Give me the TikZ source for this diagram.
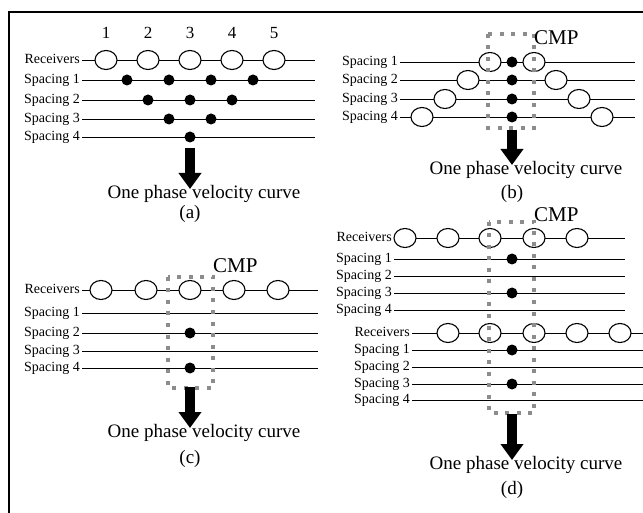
\documentclass[tikz,border=0pt]{standalone}
\usepackage{fontspec}
\setmainfont{Liberation Serif}
\usetikzlibrary{shapes.geometric,arrows.meta}

\tikzset{
  lab/.style={font=\fontsize{14}{16}\selectfont, anchor=base east, inner sep=0pt},
  rcv/.style={ellipse, draw, fill=white, line width=1.1pt, minimum width=22pt, minimum height=19pt, inner sep=0pt},
  src/.style={circle, fill=black, minimum size=11pt, inner sep=0pt},
  rowline/.style={line width=0.9pt},
  cmpbox/.style={draw=gray!90, line width=4pt, dash pattern=on 4pt off 7.5pt},
  bigarrow/.style={line width=9.5pt, -{Triangle[width=22pt,length=16pt]}},
  captxt/.style={font=\fontsize{19}{22}\selectfont, inner sep=0pt},
  cmptxt/.style={font=\fontsize{21}{24}\selectfont, anchor=base west, inner sep=0pt},
  numtxt/.style={font=\fontsize{17}{20}\selectfont, inner sep=0pt},
  frame/.style={line width=1.6pt}
}

% one labelled horizontal line: name, text, label right edge, line end, y
\newcommand\drawrow[5]{%
  \node[lab] (#1-l) at (#3,{#5+3.5}) {#2};
  \coordinate (#1-s) at ({#3+2},#5);
  \coordinate (#1-e) at (#4,#5);
  \draw[rowline] (#1-s) -- (#1-e);
}

\begin{document}
\begin{tikzpicture}[x=1pt,y=-1pt]
\useasboundingbox (0,0) rectangle (643,513);

% outer frame (top and left edges)
\coordinate (fr-tr) at (643,12);
\coordinate (fr-tl) at (9,12);
\coordinate (fr-bl) at (9,513);
\draw[frame] (fr-tr) -- (fr-tl) -- (fr-bl);

% ---------------- (a) ----------------
\foreach \i/\x in {1/106,2/148,3/190,4/232,5/274}
  \node[numtxt] (an\i) at (\x,33) {\i};
\drawrow{aR}{Receivers}{80}{315}{60}
\drawrow{aS1}{Spacing 1}{80}{315}{80}
\drawrow{aS2}{Spacing 2}{80}{315}{100}
\drawrow{aS3}{Spacing 3}{80}{315}{119}
\drawrow{aS4}{Spacing 4}{80}{315}{137}
\foreach \i/\x in {1/106,2/148,3/190,4/232,5/274}
  \node[rcv] (aR\i) at (\x,60) {};
\foreach \i/\x in {1/127,2/169,3/211,4/253}
  \node[src] (aD1\i) at (\x,80) {};
\foreach \i/\x in {1/148,2/190,3/232}
  \node[src] (aD2\i) at (\x,100) {};
\foreach \i/\x in {1/169,2/211}
  \node[src] (aD3\i) at (\x,119) {};
\node[src] (aD41) at (190,137) {};
\coordinate (aA0) at (190,148);
\coordinate (aA1) at (190,189);
\draw[bigarrow] (aA0) -- (aA1);
\node[captxt] (aC) at (204,194) {One phase velocity curve};
\node[captxt] (aL) at (190,214) {(a)};

% ---------------- (b) ----------------
\drawrow{bS1}{Spacing 1}{398}{635}{62}
\drawrow{bS2}{Spacing 2}{398}{635}{80}
\drawrow{bS3}{Spacing 3}{398}{635}{99}
\drawrow{bS4}{Spacing 4}{398}{635}{117}
\foreach \r/\y/\d in {1/62/22,2/80/44,3/99/67,4/117/90}{
  \node[rcv] (bL\r) at ({512-\d},\y) {};
  \node[rcv] (bR\r) at ({512+\d},\y) {};
  \node[src] (bD\r) at (512,\y) {};
}
\coordinate (bB0) at (488,34);
\coordinate (bB1) at (534,128);
\draw[cmpbox] (bB0) rectangle (bB1);
\node[cmptxt] (bCMP) at (534,45) {CMP};
\coordinate (bA0) at (512,130);
\coordinate (bA1) at (512,165);
\draw[bigarrow] (bA0) -- (bA1);
\node[captxt] (bC) at (526,170) {One phase velocity curve};
\node[captxt] (bL) at (512,194) {(b)};

% ---------------- (c) ----------------
\drawrow{cR}{Receivers}{80}{318}{290}
\drawrow{cS1}{Spacing 1}{80}{318}{313}
\drawrow{cS2}{Spacing 2}{80}{318}{333}
\drawrow{cS3}{Spacing 3}{80}{318}{351}
\drawrow{cS4}{Spacing 4}{80}{318}{368}
\foreach \i/\x in {1/101,2/146,3/190,4/234,5/278}
  \node[rcv] (cR\i) at (\x,290) {};
\node[src] (cD2) at (190,333) {};
\node[src] (cD4) at (190,368) {};
\coordinate (cB0) at (168,277);
\coordinate (cB1) at (213,388);
\draw[cmpbox] (cB0) rectangle (cB1);
\node[cmptxt] (cCMP) at (213,273) {CMP};
\coordinate (cA0) at (190,387);
\coordinate (cA1) at (190,428);
\draw[bigarrow] (cA0) -- (cA1);
\node[captxt] (cC) at (204,433) {One phase velocity curve};
\node[captxt] (cL) at (190,459) {(c)};

% ---------------- (d) ----------------
\drawrow{dR}{Receivers}{392}{625}{238}
\drawrow{dS1}{Spacing 1}{392}{625}{259}
\drawrow{dS2}{Spacing 2}{392}{625}{276}
\drawrow{dS3}{Spacing 3}{392}{625}{293}
\drawrow{dS4}{Spacing 4}{392}{625}{310}
\foreach \i/\x in {1/405,2/448,3/490,4/534,5/577}
  \node[rcv] (dR\i) at (\x,238) {};
\node[src] (dD1) at (512,259) {};
\node[src] (dD3) at (512,293) {};
\drawrow{eR}{Receivers}{410}{643}{333}
\drawrow{eS1}{Spacing 1}{410}{643}{350}
\drawrow{eS2}{Spacing 2}{410}{643}{367}
\drawrow{eS3}{Spacing 3}{410}{643}{384}
\drawrow{eS4}{Spacing 4}{410}{643}{400}
\foreach \i/\x in {1/448,2/490,3/534,4/577,5/620}
  \node[rcv] (eR\i) at (\x,333) {};
\node[src] (eD1) at (512,350) {};
\node[src] (eD3) at (512,384) {};
\coordinate (dB0) at (489,222);
\coordinate (dB1) at (534,413);
\draw[cmpbox] (dB0) rectangle (dB1);
\node[cmptxt] (dCMP) at (534,222) {CMP};
\coordinate (dA0) at (512,414);
\coordinate (dA1) at (512,460);
\draw[bigarrow] (dA0) -- (dA1);
\node[captxt] (dC) at (526,465) {One phase velocity curve};
\node[captxt] (dL) at (512,490) {(d)};
\end{tikzpicture}
\end{document}
